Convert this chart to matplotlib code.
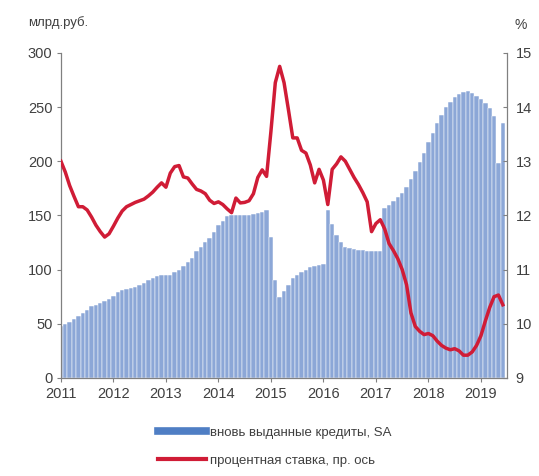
import numpy as np
import pandas as pd
import matplotlib
matplotlib.use('Agg')
import matplotlib.pyplot as plt
from matplotlib.lines import Line2D

plt.rcParams['font.family'] = ['Liberation Sans', 'DejaVu Sans']

# ---- данные (помесячно, янв 2011 - июн 2019) ----
months = pd.date_range('2011-01-01', '2019-06-01', freq='MS')

# вновь выданные кредиты, SA, млрд руб.
credits = [
    48, 50, 52, 54, 57, 60, 63, 66, 67, 69, 71, 73,            # 2011
    76, 79, 81, 82, 83, 84, 86, 88, 90, 92, 94, 95,            # 2012
    95, 95, 98, 100, 103, 107, 111, 117, 121, 125, 129, 135,   # 2013
    141, 145, 149, 150, 150, 150, 150, 150, 151, 152, 153, 155,  # 2014
    130, 90, 75, 80, 86, 92, 95, 98, 100, 102, 103, 104,       # 2015
    105, 155, 142, 132, 125, 121, 120, 119, 118, 118, 117, 117,  # 2016
    117, 117, 157, 160, 163, 167, 171, 176, 184, 191, 199, 208,  # 2017
    218, 226, 235, 243, 250, 255, 259, 262, 264, 265, 263, 260,  # 2018
    257, 254, 249, 242, 198, 235,                              # 2019
]

# процентная ставка, %
rate = [
    13.00, 12.80, 12.55, 12.35, 12.16, 12.16, 12.10, 11.97, 11.82, 11.70, 11.60, 11.66,
    11.80, 11.95, 12.08, 12.16, 12.20, 12.24, 12.27, 12.30, 12.36, 12.43, 12.52, 12.60,
    12.52, 12.78, 12.90, 12.92, 12.71, 12.69, 12.58, 12.48, 12.45, 12.40, 12.28, 12.22,
    12.25, 12.20, 12.12, 12.05, 12.32, 12.23, 12.24, 12.27, 12.40, 12.70, 12.84, 12.72,
    13.55, 14.45, 14.75, 14.45, 13.95, 13.43, 13.43, 13.20, 13.15, 12.93, 12.60, 12.85,
    12.65, 12.20, 12.85, 12.95, 13.08, 13.00, 12.85, 12.70, 12.57, 12.42, 12.25, 11.70,
    11.85, 11.92, 11.75, 11.48, 11.35, 11.20, 11.00, 10.72, 10.20, 9.95, 9.86, 9.80,
    9.82, 9.78, 9.68, 9.60, 9.55, 9.52, 9.54, 9.50, 9.42, 9.42, 9.48, 9.60,
    9.78, 10.05, 10.30, 10.50, 10.53, 10.35,
]

years = list(range(2011, 2020))
left_ticks = [0, 50, 100, 150, 200, 250, 300]
right_ticks = [9, 10, 11, 12, 13, 14, 15]

label_bars = 'вновь выданные кредиты, SA'
label_line = 'процентная ставка, пр. ось'

# дробный год для каждой точки
t = months.year + (months.month - 1) / 12.0

txt = '#404040'
spine_col = '#808080'
bar_col = '#8ca7d7'
line_col = '#d01c36'

fig = plt.figure(figsize=(5.39, 4.76), dpi=100)
ax = fig.add_axes([0.113, 0.206, 0.828, 0.683])

ax.bar(t, credits, width=1 / 12.0, color=bar_col, edgecolor='white',
       linewidth=0.35, align='center', zorder=1)
ax.set_xlim(2011, 2019.5)
ax.set_ylim(0, 300)
ax.set_yticks(left_ticks)
ax.set_xticks(years)
ax.set_xticklabels([str(y) for y in years])

ax2 = ax.twinx()
ax2.plot(t, rate, color=line_col, lw=2.5, zorder=3)
ax2.set_ylim(9, 15)
ax2.set_yticks(right_ticks)

for a in (ax, ax2):
    a.spines['top'].set_visible(False)
    for s in ('left', 'right', 'bottom'):
        a.spines[s].set_color(spine_col)
        a.spines[s].set_linewidth(0.9)
    a.tick_params(colors=spine_col, labelcolor=txt, labelsize=10.5, length=3, width=0.8)
ax.spines['right'].set_visible(False)
ax2.spines['left'].set_visible(False)
ax2.spines['bottom'].set_visible(False)
ax2.tick_params(axis='y', direction='in', pad=6)
ax.tick_params(axis='y', pad=3)

fig.text(0.052, 0.952, 'млрд.руб.', color=txt, fontsize=9.5, ha='left', va='center')
fig.text(0.955, 0.947, '%', color=txt, fontsize=10, ha='left', va='center')

handles = [Line2D([], [], color='#4f7ec4', lw=5.5),
           Line2D([], [], color=line_col, lw=3)]
fig.legend(handles, [label_bars, label_line], loc='center',
           bbox_to_anchor=(0.51, 0.062), frameon=False, fontsize=9.5,
           handlelength=3.6, handletextpad=0.3, labelspacing=1.2,
           labelcolor=txt)

fig.savefig('out.png', dpi=100)
